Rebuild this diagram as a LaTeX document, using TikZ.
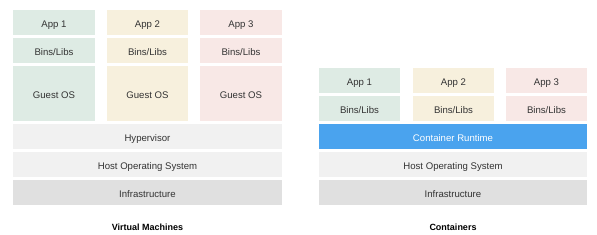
\documentclass[tikz,border=0pt]{standalone}
\usepackage{fontspec}
\setmainfont{Liberation Sans}
\definecolor{cgreen}{RGB}{222,235,228}
\definecolor{cyellow}{RGB}{247,240,221}
\definecolor{cpink}{RGB}{248,232,230}
\definecolor{cgray}{RGB}{241,241,241}
\definecolor{cinfra}{RGB}{224,224,224}
\definecolor{cblue}{RGB}{74,163,238}
\definecolor{ctext}{RGB}{51,51,51}
\begin{document}
\begin{tikzpicture}[x=1pt,y=-1pt,
  box/.style={draw=none,inner sep=0pt,minimum height=25pt,text height=9.6pt,text depth=0pt,text=ctext,font=\fontsize{9.6}{11}\selectfont},
  app/.style={box,minimum width=81.5pt},
  wide/.style={box,minimum width=269pt},
  title/.style={font=\fontsize{9}{11}\selectfont\bfseries,text=black}]
\useasboundingbox (0,0) rectangle (597,234);
% Virtual machines
\node[app,fill=cgreen]  (va1) at (54,22.5) {App 1};
\node[app,fill=cyellow] (va2) at (147.5,22.5) {App 2};
\node[app,fill=cpink]   (va3) at (241,22.5) {App 3};
\node[app,fill=cgreen]  (vb1) at (54,50.5) {Bins/Libs};
\node[app,fill=cyellow] (vb2) at (147.5,50.5) {Bins/Libs};
\node[app,fill=cpink]   (vb3) at (241,50.5) {Bins/Libs};
\node[app,fill=cgreen,minimum height=55pt]  (vg1) at (54,93.5) {Guest OS};
\node[app,fill=cyellow,minimum height=55pt] (vg2) at (147.5,93.5) {Guest OS};
\node[app,fill=cpink,minimum height=55pt]   (vg3) at (241,93.5) {Guest OS};
\node[wide,fill=cgray]  (hyp) at (147.5,136.5) {Hypervisor};
\node[wide,fill=cgray]  (vhost) at (147.5,164.5) {Host Operating System};
\node[wide,fill=cinfra] (vinf) at (147.5,192.5) {Infrastructure};
\node[title] (vmt) at (147.5,227) {Virtual Machines};
% Containers
\node[app,fill=cgreen]  (ca1) at (359.5,80.5) {App 1};
\node[app,fill=cyellow] (ca2) at (453.5,80.5) {App 2};
\node[app,fill=cpink]   (ca3) at (546.5,80.5) {App 3};
\node[app,fill=cgreen]  (cb1) at (359.5,108.5) {Bins/Libs};
\node[app,fill=cyellow] (cb2) at (453.5,108.5) {Bins/Libs};
\node[app,fill=cpink]   (cb3) at (546.5,108.5) {Bins/Libs};
\node[wide,minimum width=268pt,fill=cblue,text=white] (crt) at (453,136.5) {Container Runtime};
\node[wide,minimum width=268pt,fill=cgray]  (chost) at (453,164.5) {Host Operating System};
\node[wide,minimum width=268pt,fill=cinfra] (cinf) at (453,192.5) {Infrastructure};
\node[title] (ct) at (453,227) {Containers};
\end{tikzpicture}
\end{document}
